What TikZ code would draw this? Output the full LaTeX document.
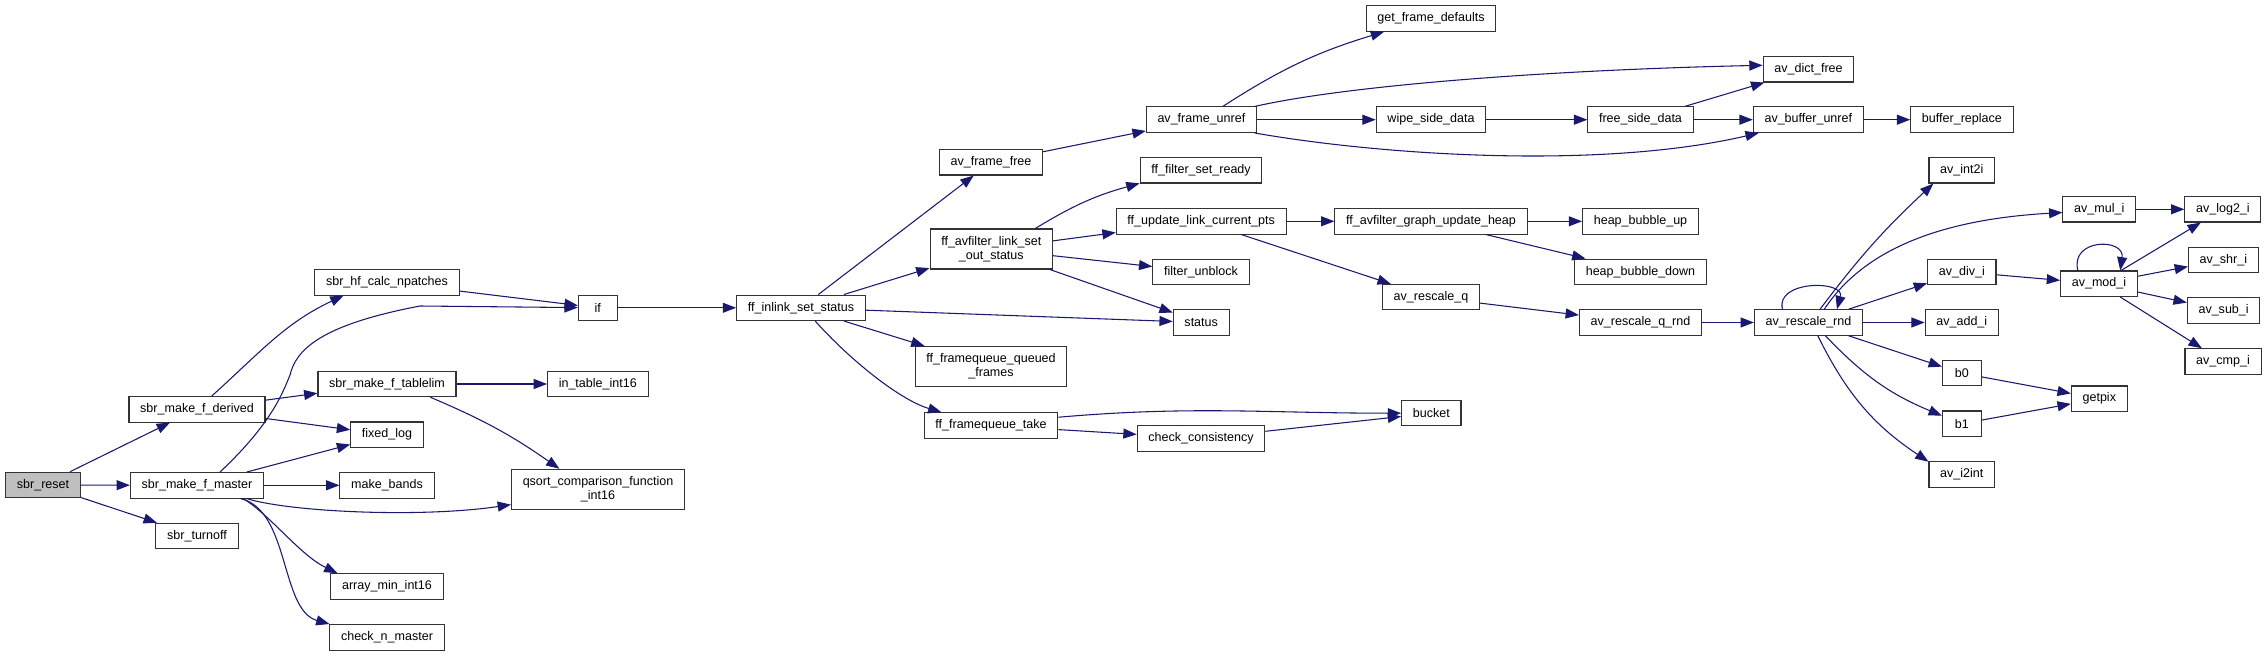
\documentclass[tikz,border=0pt]{standalone}
\usepackage{fontspec}
\setmainfont{Liberation Sans}
\usepackage{xcolor}
\usepackage{tikz}
\usetikzlibrary{arrows.meta}

\definecolor{edgeblue}{HTML}{191970}
\definecolor{rootgray}{HTML}{BFBFBF}

\begin{document}
\begin{tikzpicture}[x=0.75pt, y=-0.75pt,
  fn/.style={draw=black!80, line width=0.8pt, fill=white, inner xsep=8.4pt, inner ysep=2pt,
    minimum height=19.1pt, minimum width=29pt, font=\fontsize{9.4}{10.5}\selectfont},
  fn2/.style={fn, align=center, minimum height=30pt},
  call/.style={draw=edgeblue, line width=0.8pt, -{Triangle[length=10pt, width=7.5pt]}}]
  \path[use as bounding box, fill=white] (0,0) rectangle (2267,656);

  % callers
  \node[fn, fill=rootgray] (reset) at (43,485) {sbr\_reset};
  \node[fn] (derived) at (197,409.3) {sbr\_make\_f\_derived};
  \node[fn] (master) at (197,485.3) {sbr\_make\_f\_master};
  \node[fn] (turnoff) at (197,536) {sbr\_turnoff};
  \node[fn] (npatches) at (387,282.3) {sbr\_hf\_calc\_npatches};
  \node[fn] (tablelim) at (387,384) {sbr\_make\_f\_tablelim};
  \node[fn] (fixedlog) at (387,434.7) {fixed\_log};
  \node[fn] (bands) at (387,485.3) {make\_bands};
  \node[fn] (arraymin) at (387,586.5) {array\_min\_int16};
  \node[fn] (checkn) at (387,637.3) {check\_n\_master};
  \node[fn] (intable) at (597.8,384) {in\_table\_int16};
  \node[fn2] (qsort) at (598,489.3) {qsort\_comparison\_function\\\_int16};
  \node[fn] (ifn) at (597.7,307.8) {if};
  \node[fn] (inlink) at (801,307.8) {ff\_inlink\_set\_status};

  % filter side
  \node[fn] (framefree) at (991,162.3) {av\_frame\_free};
  \node[fn2] (outstatus) at (991.3,249) {ff\_avfilter\_link\_set\\\_out\_status};
  \node[fn2] (queued) at (991,366.5) {ff\_framequeue\_queued\\\_frames};
  \node[fn] (take) at (991,425.5) {ff\_framequeue\_take};
  \node[fn] (unref) at (1201.4,119.7) {av\_frame\_unref};
  \node[fn] (setready) at (1201,170.3) {ff\_filter\_set\_ready};
  \node[fn] (updpts) at (1201.2,221.3) {ff\_update\_link\_current\_pts};
  \node[fn] (unblock) at (1201,271.8) {filter\_unblock};
  \node[fn] (status) at (1201.2,322.5) {status};
  \node[fn] (consist) at (1201,438.3) {check\_consistency};
  \node[fn] (defaults) at (1431,18.5) {get\_frame\_defaults};
  \node[fn] (wipe) at (1431,119.7) {wipe\_side\_data};
  \node[fn] (updheap) at (1431,221.3) {ff\_avfilter\_graph\_update\_heap};
  \node[fn] (rescaleq) at (1431,297.2) {av\_rescale\_q};
  \node[fn] (bucket) at (1431.3,413.2) {bucket};
  \node[fn] (freeside) at (1640.5,119.7) {free\_side\_data};
  \node[fn] (bubbleup) at (1640.5,221.3) {heap\_bubble\_up};
  \node[fn] (bubbledown) at (1640.5,271.8) {heap\_bubble\_down};
  \node[fn] (qrnd) at (1640.5,322.5) {av\_rescale\_q\_rnd};

  % integer math
  \node[fn] (dictfree) at (1808.5,69.3) {av\_dict\_free};
  \node[fn] (bufunref) at (1808.3,119.7) {av\_buffer\_unref};
  \node[fn] (rnd) at (1808.5,322.5) {av\_rescale\_rnd};
  \node[fn] (replace) at (1961.9,119.7) {buffer\_replace};
  \node[fn] (int2i) at (1961.8,170.3) {av\_int2i};
  \node[fn] (divi) at (1961.8,271.8) {av\_div\_i};
  \node[fn] (addi) at (1961.8,322.5) {av\_add\_i};
  \node[fn] (bzero) at (1961.8,373.2) {b0};
  \node[fn] (bone) at (1961.8,423.7) {b1};
  \node[fn] (i2int) at (1961.8,474.5) {av\_i2int};
  \node[fn] (muli) at (2099.2,209.3) {av\_mul\_i};
  \node[fn] (modi) at (2099,283.7) {av\_mod\_i};
  \node[fn] (getpix) at (2099.3,398.7) {getpix};
  \node[fn] (log2i) at (2222.9,209.3) {av\_log2\_i};
  \node[fn] (shri) at (2223.4,259.8) {av\_shr\_i};
  \node[fn] (subi) at (2223.6,310.5) {av\_sub\_i};
  \node[fn] (cmpi) at (2223,361.5) {av\_cmp\_i};

  % calls
  \draw[call] (reset) -- (derived);
  \draw[call] (reset) -- (master);
  \draw[call] (reset) -- (turnoff);
  \draw[call] (derived.42) to[out=42,in=205] (npatches.197);
  \draw[call] (derived) -- (tablelim);
  \draw[call] (derived) -- (fixedlog);
  \draw[call] (master.30) .. controls (270,425) and (282,395) .. (290,375)
    .. controls (296,350) and (320,325) .. (420,306) -- (ifn);
  \draw[call] (master) -- (fixedlog);
  \draw[call] (master) -- (bands);
  \draw[call] (master.-15) .. controls (290,512) and (420,518) .. (qsort.190);
  \draw[call] (master.-16) .. controls (270,515) and (300,555) .. (arraymin.165);
  \draw[call] (master.-17) .. controls (290,510) and (280,610) .. (checkn.167);
  \draw[call] (npatches) -- (ifn);
  \draw[call] (tablelim) -- (intable);
  \draw[call] (tablelim.-17) to[bend left=6] (qsort.152);
  \draw[call] (ifn) -- (inlink);
  \draw[call] (inlink) -- (framefree);
  \draw[call] (inlink) -- (outstatus);
  \draw[call] (inlink) -- (status);
  \draw[call] (inlink) -- (queued);
  \draw[call] (inlink.-43) .. controls (850,360) and (900,400) .. (take.165);
  \draw[call] (framefree) -- (unref);
  \draw[call] (outstatus.25) to[bend left=8] (setready.192);
  \draw[call] (outstatus) -- (updpts);
  \draw[call] (outstatus) -- (unblock);
  \draw[call] (outstatus) -- (status);
  \draw[call] (take.7) to[out=5,in=180] (bucket);
  \draw[call] (take) -- (consist);
  \draw[call] (consist) -- (bucket);
  \draw[call] (unref) to[bend left=8] (defaults);
  \draw[call] (unref.14) .. controls (1350,85) and (1550,70) .. (dictfree.175);
  \draw[call] (unref) -- (wipe);
  \draw[call] (unref.-14) .. controls (1380,155) and (1600,170) .. (bufunref.195);
  \draw[call] (wipe) -- (freeside);
  \draw[call] (freeside) -- (dictfree);
  \draw[call] (freeside) -- (bufunref);
  \draw[call] (bufunref) -- (replace);
  \draw[call] (updpts) -- (updheap);
  \draw[call] (updpts) -- (rescaleq);
  \draw[call] (updheap) -- (bubbleup);
  \draw[call] (updheap) -- (bubbledown);
  \draw[call] (rescaleq) -- (qrnd);
  \draw[call] (qrnd) -- (rnd);
  \draw[call] (rnd.153) .. controls (1775,280) and (1845,280) .. (rnd.25);
  \draw[call] (rnd.49) to[bend left=5] (int2i.205);
  \draw[call] (rnd.40) .. controls (1860,255) and (1930,220) .. (muli.185);
  \draw[call] (rnd) -- (divi);
  \draw[call] (rnd) -- (addi);
  \draw[call] (rnd) -- (bzero);
  \draw[call] (rnd.-38) to[bend right=12] (bone.158);
  \draw[call] (rnd.-55) to[bend right=15] (i2int.159);
  \draw[call] (muli) -- (log2i);
  \draw[call] (divi) -- (modi);
  \draw[call] (modi.148) .. controls (2070,238) and (2125,238) .. (modi.32);
  \draw[call] (modi) -- (log2i);
  \draw[call] (modi) -- (shri);
  \draw[call] (modi) -- (subi);
  \draw[call] (modi) -- (cmpi);
  \draw[call] (bzero) -- (getpix);
  \draw[call] (bone) -- (getpix);
\end{tikzpicture}
\end{document}
